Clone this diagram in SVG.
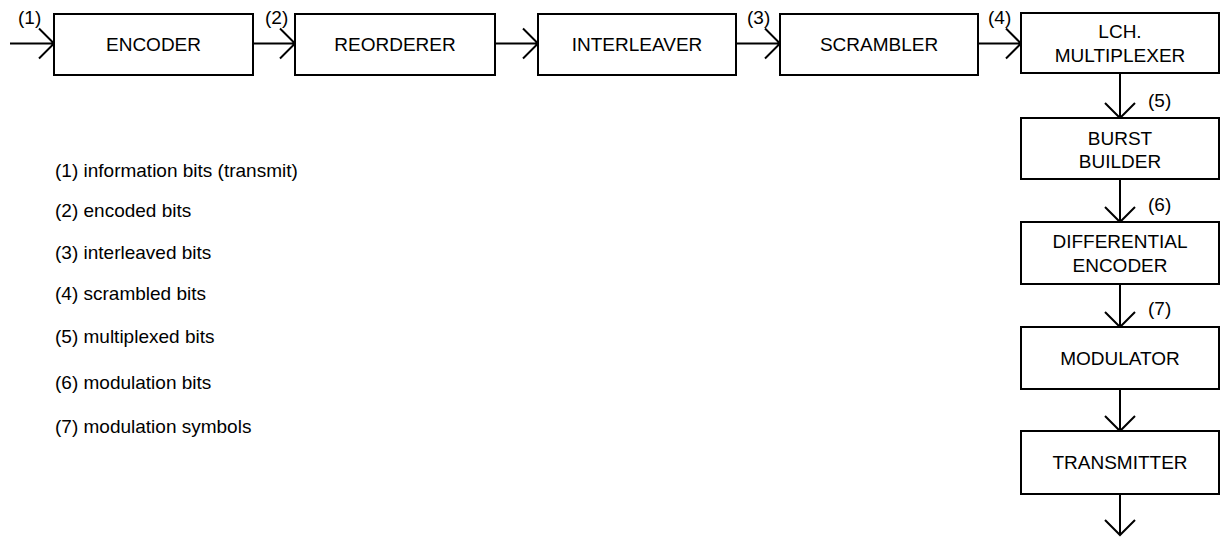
<svg xmlns="http://www.w3.org/2000/svg" width="1225" height="537" viewBox="0 0 1225 537">
<style>
text{font-family:"Liberation Sans",Arial,sans-serif;font-size:19px;fill:#000}
.box{fill:#fff;stroke:#000;stroke-width:2}
.c{text-anchor:middle}
.ln{stroke:#000;stroke-width:2;fill:none}
</style>
<rect width="1225" height="537" fill="#fff"/>
<g id="connectors">
<path class="ln" d="M10 43.5H54M39 28.5L54 43.5L39 58.5"/>
<path class="ln" d="M253 43.5H295M280 28.5L295 43.5L280 58.5"/>
<path class="ln" d="M495 43.5H538M523 28.5L538 43.5L523 58.5"/>
<path class="ln" d="M736 43.5H780M765 28.5L780 43.5L765 58.5"/>
<path class="ln" d="M978 43.5H1021M1006 28.5L1021 43.5L1006 58.5"/>
<path class="ln" d="M1120 73V118M1105 103L1120 118L1135 103"/>
<path class="ln" d="M1120 179V222M1105 207L1120 222L1135 207"/>
<path class="ln" d="M1120 284V327M1105 312L1120 327L1135 312"/>
<path class="ln" d="M1120 389V431M1105 416L1120 431L1135 416"/>
<path class="ln" d="M1120 494V535M1105 520L1120 535L1135 520"/>
<text x="18" y="24">(1)</text>
<text x="265" y="24">(2)</text>
<text x="747" y="24">(3)</text>
<text x="988" y="24">(4)</text>
<text x="1148" y="107">(5)</text>
<text x="1148" y="211">(6)</text>
<text x="1148" y="315">(7)</text>
</g>
<g id="encoder"><rect class="box" x="54" y="14" width="199" height="61"/><text class="c" x="153.5" y="51">ENCODER</text></g>
<g id="reorderer"><rect class="box" x="295" y="14" width="200" height="61"/><text class="c" x="395" y="51">REORDERER</text></g>
<g id="interleaver"><rect class="box" x="538" y="14" width="198" height="61"/><text class="c" x="637" y="51">INTERLEAVER</text></g>
<g id="scrambler"><rect class="box" x="780" y="14" width="198" height="61"/><text class="c" x="879" y="51">SCRAMBLER</text></g>
<g id="lch-multiplexer"><rect class="box" x="1021" y="13" width="198" height="60"/><text class="c" x="1120" y="38">LCH.</text><text class="c" x="1120" y="62">MULTIPLEXER</text></g>
<g id="burst-builder"><rect class="box" x="1021" y="118" width="198" height="61"/><text class="c" x="1120" y="145">BURST</text><text class="c" x="1120" y="168">BUILDER</text></g>
<g id="differential-encoder"><rect class="box" x="1021" y="222" width="198" height="62"/><text class="c" x="1120" y="248">DIFFERENTIAL</text><text class="c" x="1120" y="272">ENCODER</text></g>
<g id="modulator"><rect class="box" x="1021" y="327" width="198" height="62"/><text class="c" x="1120" y="365">MODULATOR</text></g>
<g id="transmitter"><rect class="box" x="1021" y="431" width="198" height="63"/><text class="c" x="1120" y="469">TRANSMITTER</text></g>
<g id="legend">
<text x="55" y="177">(1) information bits (transmit)</text>
<text x="55" y="217">(2) encoded bits</text>
<text x="55" y="259">(3) interleaved bits</text>
<text x="55" y="300">(4) scrambled bits</text>
<text x="55" y="343">(5) multiplexed bits</text>
<text x="55" y="389">(6) modulation bits</text>
<text x="55" y="433">(7) modulation symbols</text>
</g>
</svg>
